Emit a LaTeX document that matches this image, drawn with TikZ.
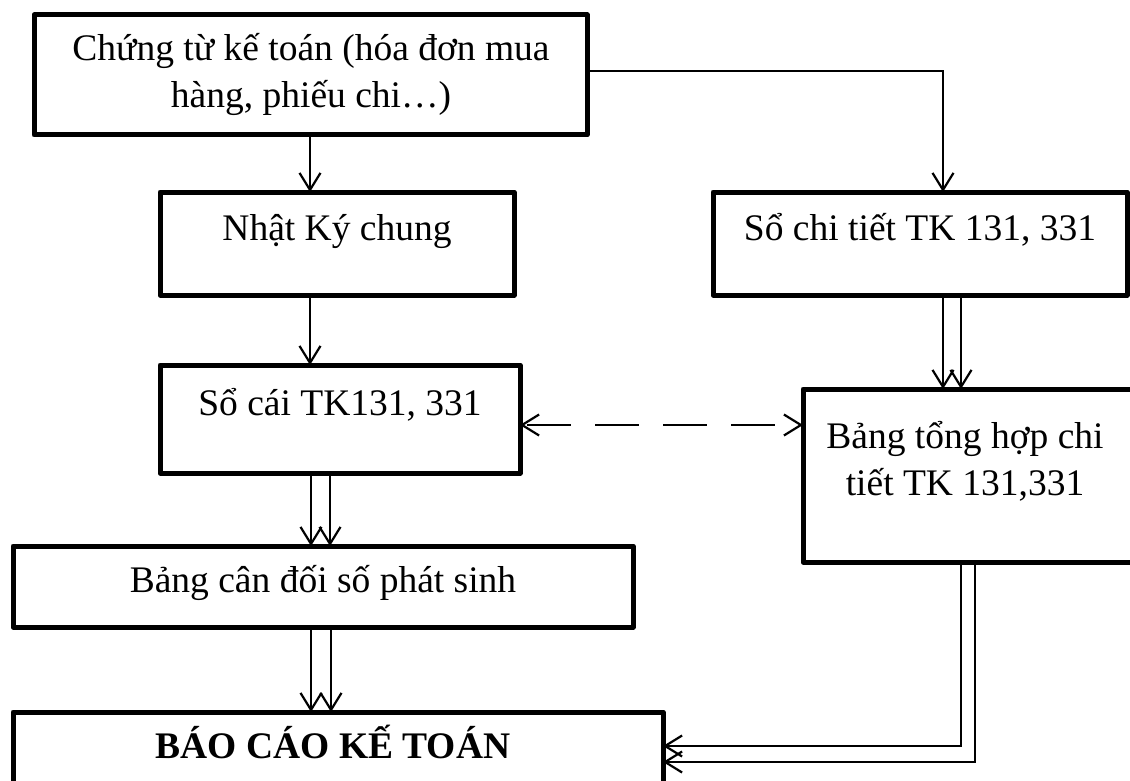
\documentclass[tikz,border=0pt]{standalone}
\usepackage{fontspec}
\setmainfont{Liberation Serif}
\usetikzlibrary{arrows.meta}
\begin{document}
\begin{tikzpicture}[x=1pt,y=-1pt,
  box/.style={draw, line width=5pt, line join=round, inner sep=0pt, outer sep=0pt},
  lbl/.style={inner sep=0pt, anchor=base, align=center, font=\fontsize{37.5}{47}\selectfont},
  link/.style={line width=2.2pt, -{Straight Barb[length=17pt,width=21pt,line width=2.2pt]}},
  dashlink/.style={line width=2.2pt, {Straight Barb[length=17pt,width=21pt,line width=2.2pt]}-{Straight Barb[length=17pt,width=21pt,line width=2.2pt]}, dash pattern=on 44pt off 24pt, dash phase=-4pt}]
\useasboundingbox (0,0) rectangle (1130,781);
\clip (0,0) rectangle (1130,781);

% boxes
\node[box, minimum width=553pt, minimum height=120pt] (ct)    at (310.5,75) {};
\node[box, minimum width=354pt, minimum height=103pt] (nkc)   at (337,243.5) {};
\node[box, minimum width=414pt, minimum height=103pt] (sct)   at (920,243.5) {};
\node[box, minimum width=360pt, minimum height=108pt] (socai) at (340,419) {};
\node[box, minimum width=331pt, minimum height=173pt] (bth)   at (968.5,475.5) {};
\node[box, minimum width=620pt, minimum height=81pt]  (bcd)   at (323,586.5) {};
\node[box, minimum width=650pt, minimum height=88pt]  (bctc)  at (338,756) {};

% texts (multi-line labels sit on the baseline of their last line)
\node[lbl] (t1) at (311,108) {Chứng từ kế toán (hóa đơn mua\\hàng, phiếu chi…)};
\node[lbl] (t2) at (337,240) {Nhật Ký chung};
\node[lbl] (t3) at (920,240) {Sổ chi tiết TK 131, 331};
\node[lbl] (t4) at (340,415) {Sổ cái TK131, 331};
\node[lbl] (t5) at (965,495) {Bảng tổng hợp chi\\tiết TK 131,331};
\node[lbl] (t6) at (323,592) {Bảng cân đối số phát sinh};
\node[lbl, font=\fontsize{37.5}{47}\selectfont\bfseries] (t7) at (333,758) {BÁO CÁO KẾ TOÁN};

% connectors
\draw[link] (ct.south -| 310,0) -- (nkc.north -| 310,0);
\draw[link] (ct.east |- 0,71) -| (sct.north -| 943,0);
\draw[link] (nkc.south -| 310,0) -- (socai.north -| 310,0);
\draw[link] (sct.south -| 943,0) -- (bth.north -| 943,0);
\draw[link] (sct.south -| 961,0) -- (bth.north -| 961,0);
\draw[dashlink] (socai.east |- 0,425) -- (bth.west |- 0,425);
\draw[link] (socai.south -| 311,0) -- (bcd.north -| 311,0);
\draw[link] (socai.south -| 330,0) -- (bcd.north -| 330,0);
\draw[link] (bcd.south -| 311,0) -- (bctc.north -| 311,0);
\draw[link] (bcd.south -| 331,0) -- (bctc.north -| 331,0);
\draw[link] (bth.south -| 961,0) |- (bctc.east |- 0,746);
\draw[link] (bth.south -| 975,0) |- (bctc.east |- 0,762);
\end{tikzpicture}
\end{document}
